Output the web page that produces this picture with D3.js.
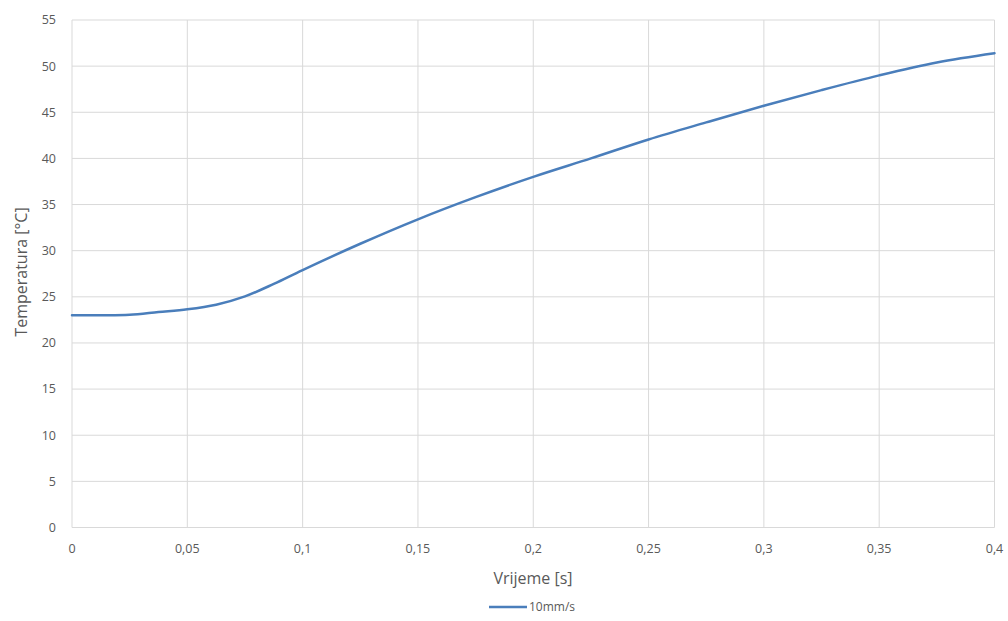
<!DOCTYPE html>
<html><head><meta charset="utf-8">
<script src="https://cdn.jsdelivr.net/npm/d3@7"></script>
<style>body{margin:0;background:#fff;font-family:"Open Sans","Noto Sans",sans-serif;}</style>
</head><body><svg id="c" width="1008" height="621"></svg>
<script>
const timeValues = [0,0.0125,0.025,0.0375,0.05,0.0625,0.075,0.0875,0.1,0.125,0.15,0.175,0.2,0.225,0.25,0.275,0.3,0.325,0.35,0.375,0.4];
const tempValues = [23.0,23.0,23.05,23.35,23.65,24.15,25.05,26.4,27.9,30.75,33.4,35.8,38.0,40.0,42.05,43.9,45.7,47.4,49.0,50.4,51.4];
const seriesName = "10mm/s";
const xTicks = [0,0.05,0.1,0.15,0.2,0.25,0.3,0.35,0.4];
const yTicks = [0,5,10,15,20,25,30,35,40,45,50,55];
const xTitle = "Vrijeme [s]";
const yTitle = "Temperatura [°C]";

const svg = d3.select("#c");
const x = d3.scaleLinear().domain([0,0.4]).range([72,994.5]);
const y = d3.scaleLinear().domain([0,55]).range([527.5,20]);
const fmt = v => String(v).replace(".", ",");
const txt = "#595959", grid = "#d9d9d9";

svg.append("g").selectAll("line").data(yTicks).join("line")
  .attr("x1",x(0)).attr("x2",x(0.4)).attr("y1",d=>y(d)).attr("y2",d=>y(d))
  .attr("stroke",grid).attr("stroke-width",1);
svg.append("g").selectAll("line").data(xTicks).join("line")
  .attr("y1",y(0)).attr("y2",y(55)).attr("x1",d=>x(d)).attr("x2",d=>x(d))
  .attr("stroke",grid).attr("stroke-width",1);

svg.append("g").selectAll("text").data(yTicks).join("text")
  .attr("x",56).attr("y",d=>y(d)).attr("dy","0.35em").attr("text-anchor","end")
  .attr("font-size",12.5).attr("fill",txt).text(d=>fmt(d));
svg.append("g").selectAll("text").data(xTicks).join("text")
  .attr("x",d=>x(d)).attr("y",549).attr("dy","0.35em").attr("text-anchor","middle")
  .attr("font-size",12.5).attr("fill",txt).text(d=>fmt(d));

svg.append("text").attr("x",533).attr("y",578).attr("dy","0.35em").attr("text-anchor","middle")
  .attr("font-size",16).attr("fill",txt).text(xTitle);
svg.append("text").attr("transform","translate(21,272) rotate(-90)").attr("dy","0.35em").attr("text-anchor","middle")
  .attr("font-size",16).attr("fill",txt).text(yTitle);

const data = timeValues.map((t,i)=>[t,tempValues[i]]);
svg.append("path").datum(data)
  .attr("d", d3.line().x(d=>x(d[0])).y(d=>y(d[1])).curve(d3.curveCatmullRom.alpha(0.5)))
  .attr("fill","none").attr("stroke","#4a7ebb").attr("stroke-width",2.5).attr("stroke-linecap","round");

svg.append("line").attr("x1",489).attr("x2",527).attr("y1",607).attr("y2",607)
  .attr("stroke","#4a7ebb").attr("stroke-width",2.5);
svg.append("text").attr("x",529).attr("y",607).attr("dy","0.35em")
  .attr("font-size",12).attr("fill",txt).text(seriesName);
</script></body></html>
